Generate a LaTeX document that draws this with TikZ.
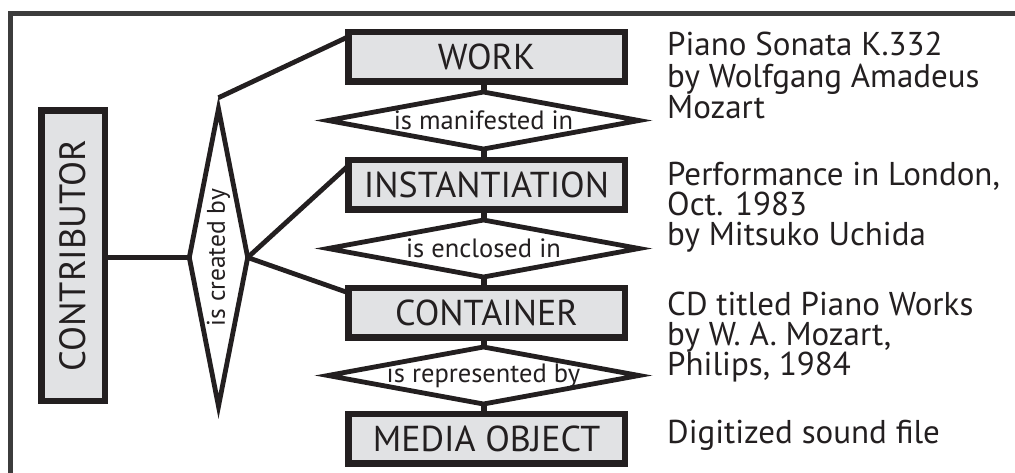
\documentclass[tikz,border=0pt]{standalone}
\usepackage{fontspec}
\setmainfont{PT Sans}
\usetikzlibrary{shapes.geometric,calc}
\definecolor{ink}{HTML}{231F20}
\definecolor{boxfill}{HTML}{E1E2E4}
\definecolor{framegray}{HTML}{3C3C3C}
\begin{document}
\begin{tikzpicture}[x=1pt,y=-1pt,
  entity/.style={draw=ink, line width=6.5pt, fill=boxfill, minimum width=276.5pt,
    minimum height=49.5pt, inner sep=0pt, outer sep=0pt, text=ink,
    font=\fontsize{36}{36}\selectfont},
  rel/.style={diamond, draw=ink, line width=4.8pt, fill=white, inner sep=0pt,
    outer sep=0pt, miter limit=10},
  reltext/.style={text=ink, inner sep=0pt, font=\fontsize{26.5}{26.5}\selectfont},
  info/.style={anchor=base west, inner sep=0pt, text=ink,
    font=\fontsize{33}{33}\selectfont},
  link/.style={draw=ink, line width=4.8pt},
  stub/.style={draw=ink, line width=6pt},
]
\useasboundingbox (0,0) rectangle (1015,472);
\clip (0,0) rectangle (1015,472);
% frame
\draw[framegray, line width=5pt] (10,490) -- (10,13) -- (1030,13);

% contributor
\node[entity, minimum width=63.5pt, minimum height=290.5pt,
  font=\fontsize{36.5}{36.5}\selectfont] (k) at (73,255.5) {\rotatebox{90}{CONTRIBUTOR}};

% is created by
\node[rel, minimum width=58.4pt, minimum height=297.6pt] (cr) at (218.5,257.5) {};
\node[reltext, font=\fontsize{25.5}{25.5}\selectfont] (crt) at (cr.center) {\rotatebox{90}{is created by}};

% entities
\node[entity] (w) at (486.5,56.5) {WORK};
\node[entity] (i) at (486.5,184.5) {INSTANTIATION};
\node[entity] (c) at (486.5,312.5) {CONTAINER};
\node[entity] (m) at (486.5,438.5) {MEDIA OBJECT};

% relations
\node[rel, minimum width=311pt, minimum height=57pt] (r1) at (483.5,120.5) {};
\node[reltext] (r1t) at (r1.center) {is manifested in};
\node[rel, minimum width=311pt, minimum height=57pt] (r2) at (483.5,248.5) {};
\node[reltext] (r2t) at (r2.center) {is enclosed in};
\node[rel, minimum width=311pt, minimum height=57pt] (r3) at (483.5,375.5) {};
\node[reltext] (r3t) at (r3.center) {is represented by};

% connectors
\draw[link, line width=5pt] (cr.west) -- (cr.west -| k.east);
\draw[link] ([yshift=11pt]cr.north) -- ([yshift=-5pt]w.north west);
\draw[link] (cr.east) -- ([yshift=-6pt]i.north west);
\draw[link] (cr.east) -- ([yshift=-5pt]c.north west);
\draw[stub] (r1.north) -- (r1.north |- w.south);
\draw[stub] (r1.south) -- (r1.south |- i.north);
\draw[stub] (r2.north) -- (r2.north |- i.south);
\draw[stub] (r2.south) -- (r2.south |- c.north);
\draw[stub] (r3.north) -- (r3.north |- c.south);
\draw[stub] (r3.south) -- (r3.south |- m.north);

% descriptions
\node[info] (d1a) at (667,55) {Piano Sonata K.332};
\node[info] (d1b) at (667,87) {by Wolfgang Amadeus};
\node[info] (d1c) at (667,118) {Mozart};
\node[info] (d2a) at (667,185) {Performance in London,};
\node[info] (d2b) at (667,215) {Oct. 1983};
\node[info] (d2c) at (667,245) {by Mitsuko Uchida};
\node[info] (d3a) at (667,315) {CD titled Piano Works};
\node[info] (d3b) at (667,345) {by W. A. Mozart,};
\node[info] (d3c) at (667,375) {Philips, 1984};
\node[info] (d4a) at (667,443) {Digitized sound file};
\end{tikzpicture}
\end{document}
